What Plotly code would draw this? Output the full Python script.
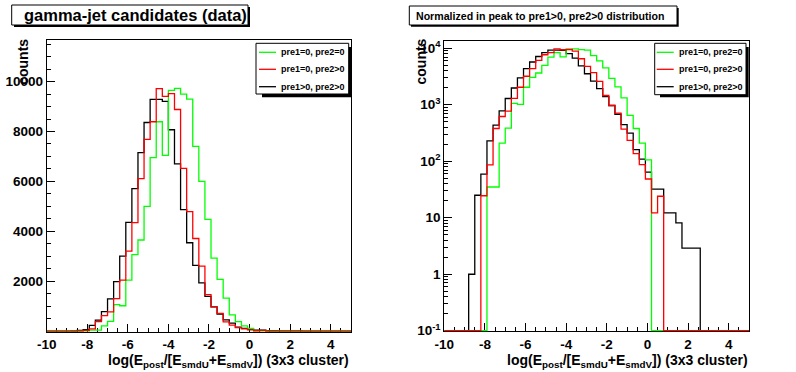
import numpy as np
import plotly.graph_objects as go

W, H = 796, 372

# ---------------- data ----------------
bin_edges = np.linspace(-10.0, 5.0, 51)  # 50 bins, width 0.3

series_names = ["pre1=0, pre2=0", "pre1=0, pre2>0", "pre1>0, pre2>0"]
series_colors = ["#00ff00", "#ff0000", "#000000"]

counts_pre1_0_pre2_0 = [
    0, 0, 0, 0, 0, 0, 0, 35, 35, 210,
    386, 1060, 1015, 2040, 3060, 3650, 5000, 6950, 8390, 7040,
    9650, 9730, 9500, 9300, 7400, 6000, 4480, 2920, 2070, 1320,
    650, 380, 210, 106, 0, 0, 0, 0, 0, 0,
    0, 0, 0, 0, 0, 0, 0, 0, 0, 0,
]
counts_pre1_0_pre2_gt0 = [
    0, 0, 0, 0, 0, 0, 24.5, 86, 380, 620,
    770, 1300, 2040, 3200, 4350, 6110, 7680, 8390, 9720, 9410,
    9520, 8880, 6520, 4790, 3710, 2600, 1460, 970, 710, 370,
    235, 136, 87, 48.5, 12.2, 24, 0, 0, 0, 0,
    0, 0, 0, 0, 0, 0, 0, 0, 0, 0,
]
counts_pre1_gt0_pre2_gt0 = [
    0, 0, 0, 0, 1.0, 25, 59, 230, 436, 780,
    1290, 1980, 3000, 4360, 5710, 7150, 8360, 9290, 9290, 9210,
    8070, 6700, 4870, 3540, 2630, 1930, 1390, 970, 680, 445,
    315, 160, 109, 64, 32, 32, 12.2, 12.2, 8.1, 2.9,
    2.9, 2.9, 0, 0, 0, 0, 0, 0, 0, 0,
]

x_tick_vals = [-10, -8, -6, -4, -2, 0, 2, 4]
x_tick_labels = ["-10", "-8", "-6", "-4", "-2", "0", "2", "4"]
lin_tick_vals = [2000, 4000, 6000, 8000, 10000]
lin_tick_labels = ["2000", "4000", "6000", "8000", "10000"]
log_tick_vals = [0.1, 1, 10, 100, 1000, 10000]
log_tick_labels = ["10<sup>-1</sup>", "1", "10", "10<sup>2</sup>", "10<sup>3</sup>", "10<sup>4</sup>"]
log_minor_vals = [m * 10.0 ** e for e in range(-1, 4) for m in range(2, 10)]

title_left = "gamma-jet candidates (data)"
title_right = "Normalized in peak to pre1>0, pre2>0 distribution"
x_title = "log(E<sub>post</sub>/[E<sub>smdU</sub>+E<sub>smdV</sub>]) (3x3 cluster)"
y_title = "counts"

# ---------------- helpers ----------------
def px(x):
    return x / W

def py(y):
    return 1 - y / H

FONT = "Liberation Sans, Arial, Helvetica, sans-serif"

series = [counts_pre1_0_pre2_0, counts_pre1_0_pre2_gt0, counts_pre1_gt0_pre2_gt0]
draw_order = [2, 0, 1]  # black, green, red (red on top)

fig = go.Figure()
for i in draw_order:
    vals = list(series[i])
    fig.add_trace(go.Scatter(
        x=list(bin_edges), y=vals + [vals[-1]],
        mode="lines", line=dict(color=series_colors[i], width=1.3, shape="hv"),
        name=series_names[i], showlegend=False, xaxis="x", yaxis="y",
        hoverinfo="skip"))
    lv = [v if v > 0 else 0.1 for v in vals]
    fig.add_trace(go.Scatter(
        x=list(bin_edges), y=lv + [lv[-1]],
        mode="lines", line=dict(color=series_colors[i], width=1.3, shape="hv"),
        name=series_names[i], showlegend=False, xaxis="x2", yaxis="y2",
        hoverinfo="skip"))

tickfont = dict(family=FONT, size=13.5, color="black", weight="bold")

common_x = dict(
    range=[-10, 5], showline=True, linecolor="black", linewidth=1, mirror=True,
    ticks="inside", ticklen=8, tickcolor="black", tickwidth=1,
    tickmode="array", tickvals=x_tick_vals, ticktext=x_tick_labels,
    minor=dict(ticks="inside", ticklen=4, tickcolor="black", dtick=0.5, tick0=-10),
    showgrid=False, zeroline=False, tickfont=tickfont, layer="below traces",
    automargin=False,
)

fig.update_layout(
    width=W, height=H, autosize=False,
    margin=dict(l=0, r=0, t=0, b=0, pad=0),
    paper_bgcolor="white", plot_bgcolor="white",
    showlegend=False,
    xaxis=dict(domain=[px(46.67), px(351)], anchor="y", **common_x),
    yaxis=dict(domain=[py(331.67), py(40)], anchor="x", automargin=False,
               range=[-25, 11667], showline=True, linecolor="black", linewidth=1, mirror=True,
               ticks="inside", ticklen=8, tickcolor="black",
               tickmode="array", tickvals=lin_tick_vals, ticktext=lin_tick_labels,
               minor=dict(ticks="inside", ticklen=4, tickcolor="black", dtick=500, tick0=0),
               showgrid=False, zeroline=False, tickfont=tickfont, layer="below traces"),
    xaxis2=dict(domain=[px(444.3), px(749)], anchor="y2", **common_x),
    yaxis2=dict(domain=[py(331.3), py(40.7)], anchor="x2", type="log", automargin=False,
                range=[-1.01, 4.134], showline=True, linecolor="black", linewidth=1, mirror=True,
                ticks="inside", ticklen=8, tickcolor="black",
                tickmode="array", tickvals=log_tick_vals, ticktext=log_tick_labels,
                minor=dict(ticks="inside", ticklen=4, tickcolor="black", tickvals=log_minor_vals),
                showgrid=False, zeroline=False, tickfont=tickfont, layer="below traces"),
)

shapes = []
annotations = []

def box_with_shadow(x0, y0, x1, y1, sx0, sy0, sx1, sy1):
    shapes.append(dict(type="rect", xref="paper", yref="paper",
                       x0=px(sx0), x1=px(sx1), y0=py(sy1), y1=py(sy0),
                       fillcolor="black", line=dict(width=0), layer="above"))
    shapes.append(dict(type="rect", xref="paper", yref="paper",
                       x0=px(x0), x1=px(x1), y0=py(y1), y1=py(y0),
                       fillcolor="white", line=dict(color="black", width=1), layer="above"))

# titles
box_with_shadow(11.7, 5, 248, 25, 14, 7, 250, 27)
annotations.append(dict(text="<b>%s</b>" % title_left, xref="paper", yref="paper",
                        x=px(21.5), y=py(15.5), xanchor="left", yanchor="middle",
                        showarrow=False, font=dict(family=FONT, size=16.5, color="black")))
box_with_shadow(409.3, 6, 677, 25, 411, 8, 678.7, 26.7)
annotations.append(dict(text="<b>%s</b>" % title_right, xref="paper", yref="paper",
                        x=px(413.5), y=py(15.7), xanchor="left", yanchor="middle",
                        showarrow=False, font=dict(family=FONT, size=10.6, color="black")))

# legends (one per panel)
legend_specs = [
    dict(box=(256, 43.3, 348.7, 94), shadow=(262, 47, 351, 97.3), sx=(259, 276), tx=279.3),
    dict(box=(654.7, 43.3, 746, 94.7), shadow=(660, 47, 748.7, 97.3), sx=(656.7, 673.7), tx=677),
]
row_y = [52.3, 69.3, 86.7]
for spec in legend_specs:
    box_with_shadow(*spec["box"], *spec["shadow"])
    for j in range(3):
        shapes.append(dict(type="line", xref="paper", yref="paper",
                           x0=px(spec["sx"][0]), x1=px(spec["sx"][1]),
                           y0=py(row_y[j]), y1=py(row_y[j]),
                           line=dict(color=series_colors[j], width=1.3), layer="above"))
        annotations.append(dict(text="<b>%s</b>" % series_names[j], xref="paper", yref="paper",
                                x=px(spec["tx"]), y=py(row_y[j]), xanchor="left", yanchor="middle",
                                showarrow=False, font=dict(family=FONT, size=9, color="black")))

# axis titles
for xr, yc in [(351, 22.8), (749.5, 420.5)]:
    annotations.append(dict(text="<b>%s</b>" % x_title, xref="paper", yref="paper",
                            x=px(xr), y=py(350), xanchor="right", yanchor="top",
                            showarrow=False, font=dict(family=FONT, size=14, color="black")))
    annotations.append(dict(text="<b>%s</b>" % y_title, xref="paper", yref="paper",
                            x=px(yc), y=py(62), xanchor="center", yanchor="middle",
                            textangle=-90, showarrow=False,
                            font=dict(family=FONT, size=14, color="black")))

fig.update_layout(shapes=shapes, annotations=annotations)
fig.write_html(
    "out.html",
    config={"displayModeBar": False, "staticPlot": True},
    post_script=(
        "document.documentElement.style.margin='0';"
        "document.body.style.margin='0';document.body.style.padding='0';"
        "document.body.style.overflow='hidden';"
        "var d=document.getElementById('{plot_id}');"
        "d.style.position='absolute';d.style.left='0px';d.style.top='0px';"
    ),
)
